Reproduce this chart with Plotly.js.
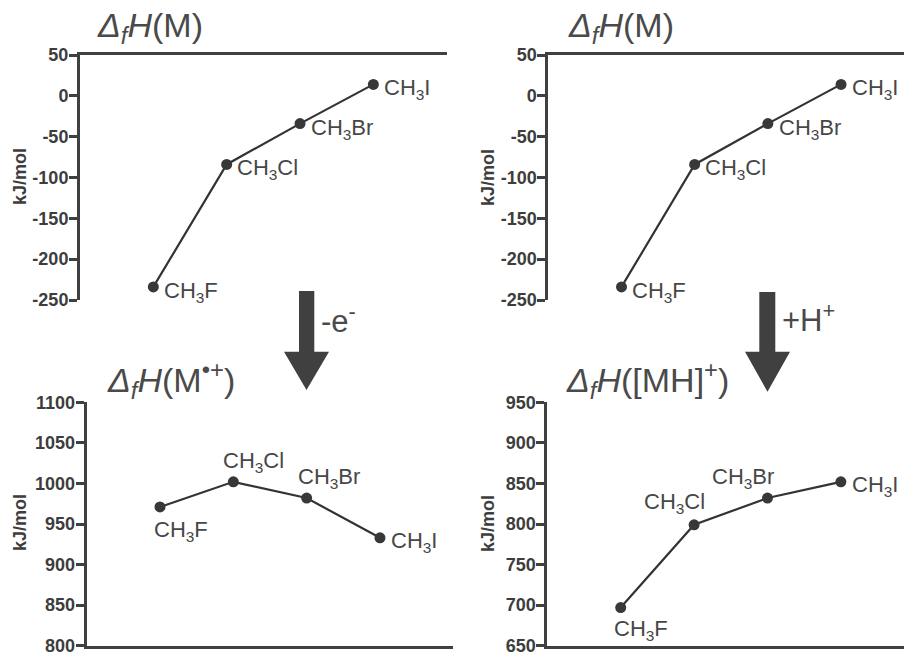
<!DOCTYPE html>
<html>
<head>
<meta charset="utf-8">
<script src="https://cdn.plot.ly/plotly-3.0.1.min.js"></script>
<style>html,body{margin:0;padding:0;background:#fff;}#chart{width:904px;height:652px;}</style>
</head>
<body>
<div id="chart"></div>
<script>
// ---- data ----
const categories = ['CH3F', 'CH3Cl', 'CH3Br', 'CH3I'];
const pointLabels = ['CH<sub>3</sub>F', 'CH<sub>3</sub>Cl', 'CH<sub>3</sub>Br', 'CH<sub>3</sub>I'];
const dHf_M = [-234, -84, -34, 14];          // ΔfH(M), kJ/mol
const dHf_Mrad = [971, 1002, 982, 933];      // ΔfH(M•+), kJ/mol
const dHf_MH = [697, 799, 832, 852];         // ΔfH([MH]+), kJ/mol
const ticksM = [-250, -200, -150, -100, -50, 0, 50];
const tickTextM = ['-250', '-200', '-150', '-100', '-50', '0', '50'];
const ticksMrad = [800, 850, 900, 950, 1000, 1050, 1100];
const tickTextMrad = ['800', '850', '900', '950', '1000', '1050', '1100'];
const ticksMH = [650, 700, 750, 800, 850, 900, 950];
const tickTextMH = ['650', '700', '750', '800', '850', '900', '950'];
const panelTitles = [
  '<i>Δ<sub>f</sub>H</i>(M)',
  '<i>Δ<sub>f</sub>H</i>(M)',
  '<i>Δ<sub>f</sub>H</i>(M<sup>•+</sup>)',
  '<i>Δ<sub>f</sub>H</i>([MH]<sup>+</sup>)'
];
const arrowLabels = ['-e<sup>-</sup>', '+H<sup>+</sup>'];
const yTitle = 'kJ/mol';

// ---- layout helpers ----
const W = 904, H = 652;
const px = x => x / W;
const py = y => 1 - y / H;
const AX = '#404040', TXT = '#474747', FONT = 'Liberation Sans, Arial, sans-serif';

const panels = [
  {vals: dHf_M, tv: ticksM, tt: tickTextM, xd: [80, 446.7], yd: [300, 55], xr: [-1, 4], yr: [-250, 50], side: 'top',
   title: [95, 28], ytitle: [20, 177],
   lab: [['left','middle',9,-5],['left','middle',8,-5],['left','middle',9,-5],['left','middle',9,-5]]},
  {vals: dHf_M, tv: ticksM, tt: tickTextM, xd: [548.3, 904], yd: [300, 55], xr: [-1, 3.86], yr: [-250, 50], side: 'top',
   title: [566, 28], ytitle: [488, 177],
   lab: [['left','middle',9,-5],['left','middle',8,-5],['left','middle',9,-5],['left','middle',9,-5]]},
  {vals: dHf_Mrad, tv: ticksMrad, tt: tickTextMrad, xd: [86.7, 453.3], yd: [645.7, 402.3], xr: [-1, 4], yr: [800, 1100], side: 'bottom',
   title: [105, 380], ytitle: [20, 523],
   lab: [['left','top',-8,-8],['left','bottom',-12,4],['left','bottom',-11,4],['left','middle',9,-4]]},
  {vals: dHf_MH, tv: ticksMH, tt: tickTextMH, xd: [547.3, 904], yd: [645.7, 402.3], xr: [-1, 3.86], yr: [650, 950], side: 'bottom',
   title: [564, 380], ytitle: [488, 523],
   lab: [['left','top',-9,-6],['right','bottom',13,6],['right','bottom',9,4],['left','middle',9,-4]]}
];

const data = [];
const layout = {
  width: W, height: H,
  margin: {l: 0, r: 0, t: 0, b: 0},
  paper_bgcolor: '#fff', plot_bgcolor: 'rgba(0,0,0,0)',
  showlegend: false,
  font: {family: FONT, color: TXT},
  annotations: [],
  shapes: []
};

panels.forEach((p, i) => {
  const n = i + 1;
  const xa = 'xaxis' + (n === 1 ? '' : n), ya = 'yaxis' + (n === 1 ? '' : n);
  const xr = 'x' + (n === 1 ? '' : n), yr = 'y' + (n === 1 ? '' : n);
  layout[xa] = {
    domain: [px(p.xd[0]), Math.min(1, px(p.xd[1]))], anchor: yr, side: p.side,
    type: 'category', categoryorder: 'array', categoryarray: categories,
    range: p.xr, showline: true, linecolor: AX, linewidth: 3,
    showgrid: false, zeroline: false, showticklabels: false, ticks: '', fixedrange: true
  };
  layout[ya] = {
    domain: [py(p.yd[0]), py(p.yd[1])], anchor: xr,
    range: p.yr, tickmode: 'array', tickvals: p.tv, ticktext: p.tt,
    ticks: 'outside', ticklen: 8, tickwidth: 3, tickcolor: AX,
    ticklabelstandoff: -3, ticklabeloverflow: 'allow',
    showline: true, linecolor: AX, linewidth: 3, showgrid: false, zeroline: false,
    tickfont: {family: FONT, size: 18, color: '#3d3d3d', weight: 'bold'}, fixedrange: true
  };
  data.push({
    type: 'scatter', mode: 'lines+markers', x: categories, y: p.vals, xaxis: xr, yaxis: yr,
    line: {color: '#333333', width: 2.2},
    marker: {size: 11, color: '#383838'},
    cliponaxis: false, hoverinfo: 'skip'
  });
  p.vals.forEach((v, k) => {
    const L = p.lab[k];
    layout.annotations.push({
      x: categories[k], y: v, xref: xr, yref: yr, text: pointLabels[k], showarrow: false,
      xanchor: L[0], yanchor: L[1], xshift: L[2], yshift: L[3],
      font: {family: FONT, size: 22, color: TXT}
    });
  });
  layout.annotations.push({
    x: px(p.title[0]), y: py(p.title[1]), xref: 'paper', yref: 'paper', text: panelTitles[i],
    showarrow: false, xanchor: 'left', yanchor: 'middle',
    font: {family: FONT, size: 34, color: '#4a4a4a'}
  });
  layout.annotations.push({
    x: px(p.ytitle[0]), y: py(p.ytitle[1]), xref: 'paper', yref: 'paper', text: yTitle,
    showarrow: false, textangle: -90, xanchor: 'center', yanchor: 'middle',
    font: {family: FONT, size: 18, color: '#3d3d3d', weight: 'bold'}
  });
});

// arrows between rows
const arrows = [
  {sx: [299, 314.3], top: 291, head: 351.7, hx: [284, 329], tip: 390, lab: [319, 319]},
  {sx: [759.3, 775.3], top: 292, head: 351.7, hx: [745, 790], tip: 391.7, lab: [780, 318]}
];
arrows.forEach((a, i) => {
  const tipx = (a.hx[0] + a.hx[1]) / 2;
  const path = 'M' + px(a.sx[0]) + ',' + py(a.top) +
    ' L' + px(a.sx[1]) + ',' + py(a.top) +
    ' L' + px(a.sx[1]) + ',' + py(a.head) +
    ' L' + px(a.hx[1]) + ',' + py(a.head) +
    ' L' + px(tipx) + ',' + py(a.tip) +
    ' L' + px(a.hx[0]) + ',' + py(a.head) +
    ' L' + px(a.sx[0]) + ',' + py(a.head) + ' Z';
  layout.shapes.push({type: 'path', xref: 'paper', yref: 'paper', path: path,
    fillcolor: '#404040', line: {width: 0}});
  layout.annotations.push({
    x: px(a.lab[0]), y: py(a.lab[1]), xref: 'paper', yref: 'paper', text: arrowLabels[i],
    showarrow: false, xanchor: 'left', yanchor: 'middle',
    font: {family: FONT, size: 31, color: '#4a4a4a'}
  });
});

Plotly.newPlot('chart', data, layout, {staticPlot: true, displayModeBar: false});
</script>
</body>
</html>
